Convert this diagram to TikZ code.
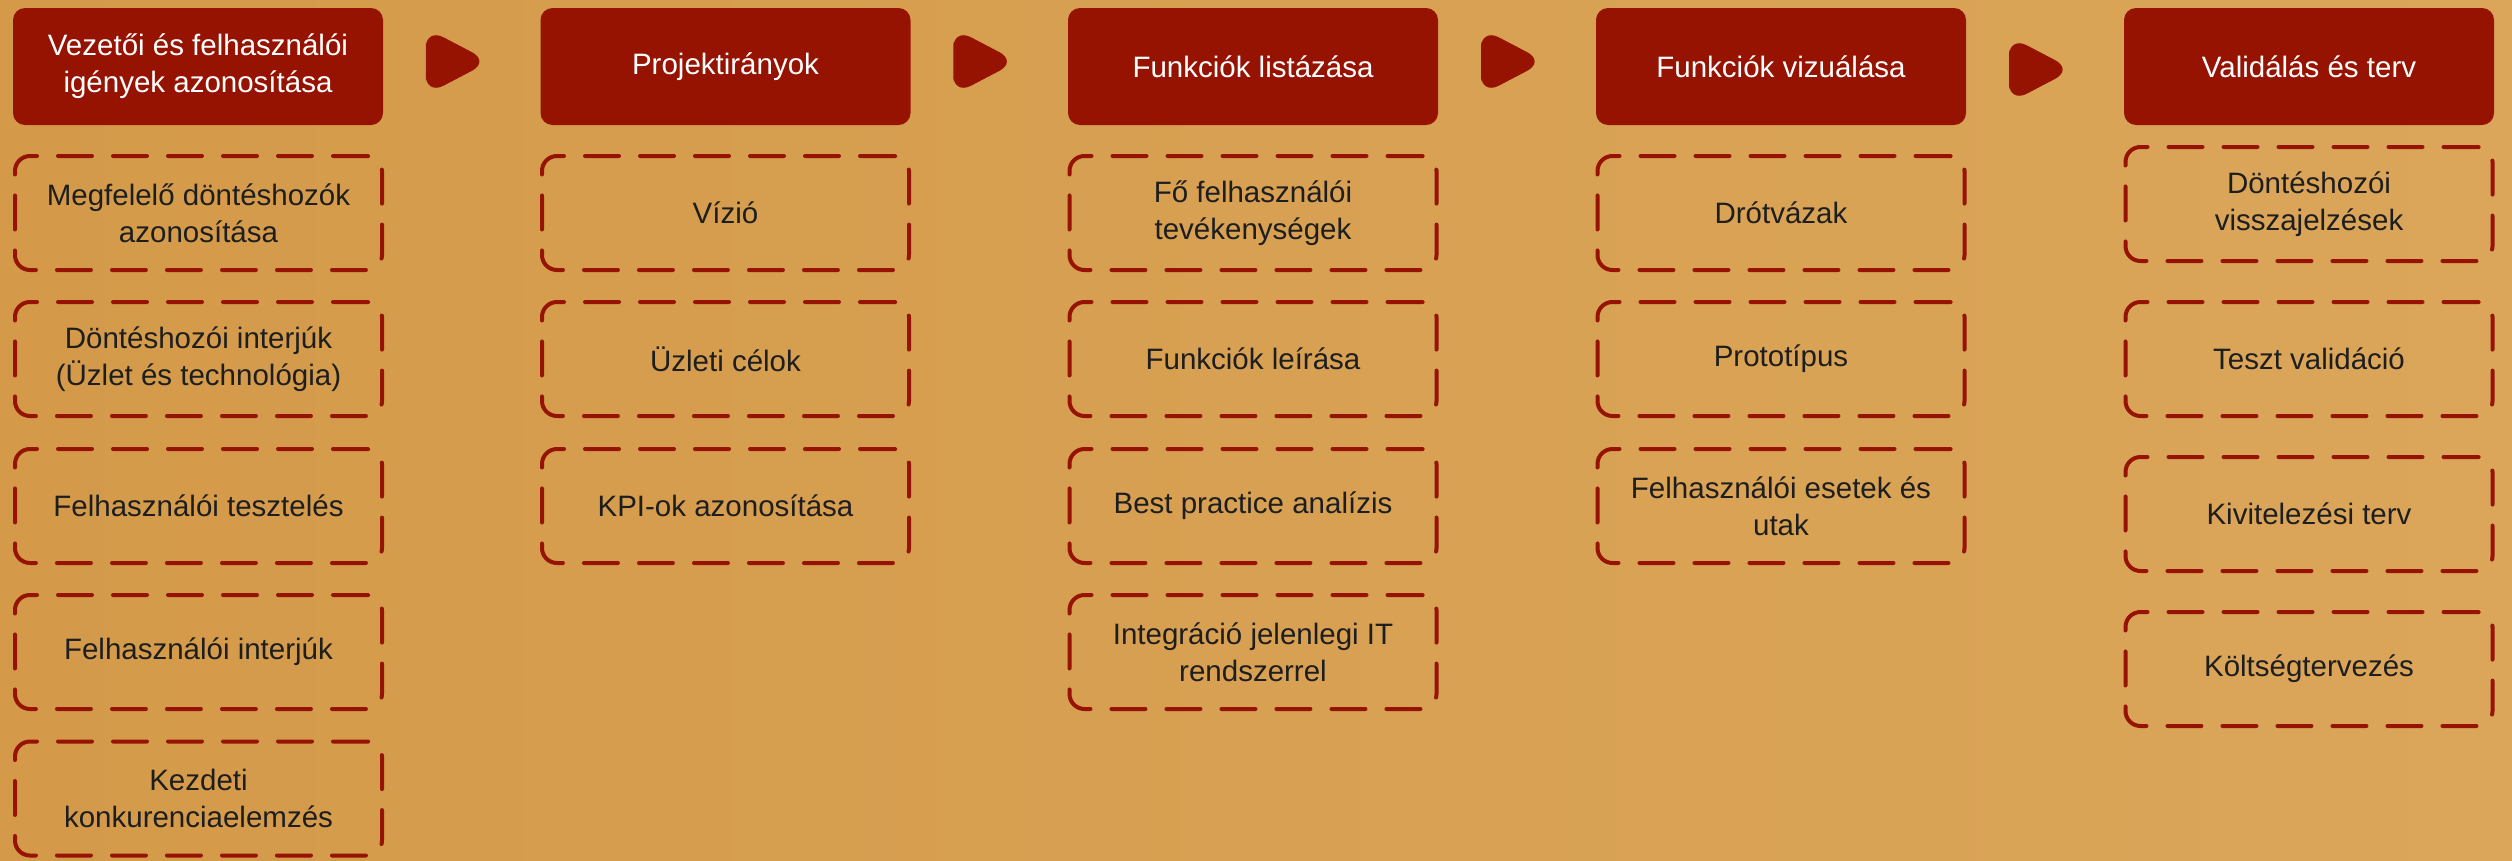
\documentclass[tikz,border=0pt]{standalone}
\usepackage{fontspec}
\setmainfont{Liberation Sans}
\usetikzlibrary{calc}
\definecolor{bgtanL}{HTML}{D49A4A}
\definecolor{bgtanR}{HTML}{DBA65A}
\definecolor{darkred}{HTML}{951300}
\definecolor{txtdark}{HTML}{1E1E1E}
\begin{document}
\begin{tikzpicture}[x=1pt,y=-1pt,
  header/.style={fill=darkred, rounded corners=12pt, minimum width=370pt, minimum height=117pt,
    text=white, align=center, font=\fontsize{29.5}{37}\selectfont, inner sep=0pt},
  item/.style={draw=darkred, line width=4pt, dash pattern=on 34pt off 21pt, line cap=round,
    rounded corners=15pt, minimum width=367pt, minimum height=114pt,
    text=txtdark, align=center, font=\fontsize{29.5}{37}\selectfont, inner sep=0pt},
  playarrow/.style={fill=darkred, rounded corners=20pt}
]
\shade[left color=bgtanL, right color=bgtanR] (0,0) rectangle (2512,860);
\useasboundingbox (0,0) rectangle (2512,860);

% headers
\node[header] (h1) at (198,66.5) {Vezetői és felhasználói\\igények azonosítása};
\node[header] (h2) at (725.5,66.5) {Projektirányok};
\node[header] (h3) at (1253,66.5) {Funkciók listázása};
\node[header] (h4) at (1781,66.5) {Funkciók vizuálása};
\node[header] (h5) at (2309,66.5) {Validálás és terv};

% arrows between headers
\coordinate (m1) at ($(h1.east)!0.5!(h2.west)+(-36,-5)$);
\coordinate (m2) at ($(h2.east)!0.5!(h3.west)+(-36,-5)$);
\coordinate (m3) at ($(h3.east)!0.5!(h4.west)+(-36,-5)$);
\coordinate (m4) at ($(h4.east)!0.5!(h5.west)+(-36,3)$);
\foreach \m in {m1,m2,m3,m4}{
  \path[playarrow] (\m) -- ++(0,-33.5) -- ++(64,33.5) -- ++(-64,33.5) -- cycle;
}

% column 1
\node[item] (a1) at (198.5,213) {Megfelelő döntéshozók\\azonosítása};
\node[item] (a2) at (198.5,359) {Döntéshozói interjúk\\(Üzlet és technológia)};
\node[item] (a3) at (198.5,506) {Felhasználói tesztelés};
\node[item] (a4) at (198.5,652) {Felhasználói interjúk};
\node[item] (a5) at (198.5,798.5) {Kezdeti\\konkurenciaelemzés};

% column 2
\node[item] (b1) at (725.5,213) {Vízió};
\node[item] (b2) at (725.5,359) {Üzleti célok};
\node[item] (b3) at (725.5,506) {KPI-ok azonosítása};

% column 3
\node[item] (c1) at (1253,213) {Fő felhasználói\\tevékenységek};
\node[item] (c2) at (1253,359) {Funkciók leírása};
\node[item] (c3) at (1253,506) {Best practice analízis};
\node[item] (c4) at (1253,652) {Integráció jelenlegi IT\\rendszerrel};

% column 4
\node[item] (d1) at (1781,213) {Drótvázak};
\node[item] (d2) at (1781,359) {Prototípus};
\node[item] (d3) at (1781,506) {Felhasználói esetek és\\utak};

% column 5
\node[item] (e1) at (2309,204) {Döntéshozói\\visszajelzések};
\node[item] (e2) at (2309,359) {Teszt validáció};
\node[item] (e3) at (2309,514) {Kivitelezési terv};
\node[item] (e4) at (2309,669) {Költségtervezés};
\end{tikzpicture}
\end{document}
